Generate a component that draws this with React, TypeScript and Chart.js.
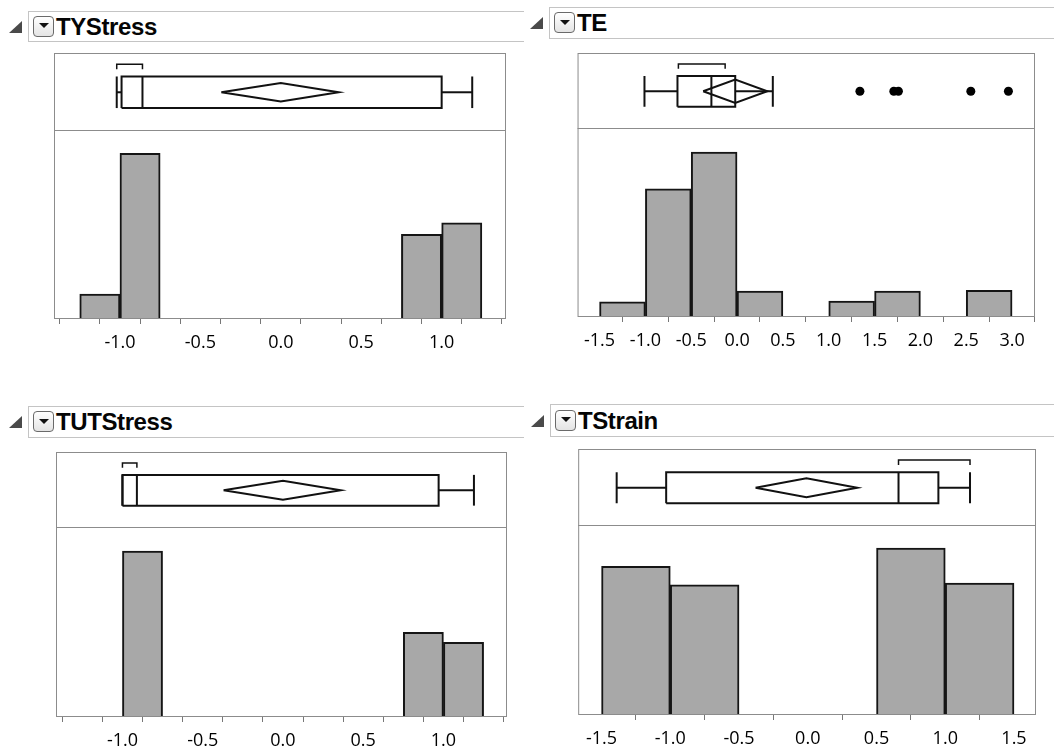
import React, { useEffect, useRef } from "react";
import { Chart, registerables } from "chart.js";

Chart.register(...registerables);

// ---------- DATA ----------
// TYStress
const tyBinStart = [-1.25, -1.0, 0.75, 1.0];
const tyCounts = [3, 20, 10.2, 11.6];
const tyBox = [-1.02, -0.99, -0.86, 1.0, 1.19]; // min, q1, median, q3, max
const tyDiamond = [-0.37, 0.0, 0.36]; // lower CI, mean, upper CI
const tyShortest = [-1.02, -0.86];
const tyOutliers: number[] = [];

// TE
const teBinStart = [-1.5, -1.0, -0.5, 0.0, 1.0, 1.5, 2.5];
const teCounts = [1.2, 10.1, 13, 2.05, 1.25, 2.05, 2.1];
const teBox = [-1.01, -0.65, -0.28, -0.02, 0.39];
const teDiamond = [-0.37, -0.02, 0.33];
const teShortest = [-0.64, -0.13];
const teOutliers = [1.34, 1.71, 1.76, 2.55, 2.96];

// TUTStress
const tutBinStart = [-1.0, 0.75, 1.0];
const tutCounts = [20, 10.2, 9];
const tutBox = [-1.0, -1.0, -0.91, 0.97, 1.19];
const tutDiamond = [-0.37, 0.0, 0.36];
const tutShortest = [-1.0, -0.91];
const tutOutliers: number[] = [];

// TStrain
const tsBinStart = [-1.5, -1.0, 0.5, 1.0];
const tsCounts = [8.9, 7.8, 10, 7.9];
const tsBox = [-1.39, -1.03, 0.66, 0.95, 1.18];
const tsDiamond = [-0.38, -0.01, 0.36];
const tsShortest = [0.66, 1.18];
const tsOutliers: number[] = [];

const titles = ["TYStress", "TE", "TUTStress", "TStrain"];

// ---------- LAYOUT ----------
type PanelDef = {
  title: string;
  bins: number[];
  counts: number[];
  binWidth: number;
  box: number[];
  diamond: number[];
  shortest: number[];
  outliers: number[];
  xMin: number;
  xMax: number;
  step: number;
  histMax: number;
  frame: { left: number; top: number; w: number; h: number; boxH: number };
  header: { x: number; y: number; w: number; h: number };
  diamondHalf: number;
};

const panels: PanelDef[] = [
  {
    title: titles[0], bins: tyBinStart, counts: tyCounts, binWidth: 0.25,
    box: tyBox, diamond: tyDiamond, shortest: tyShortest, outliers: tyOutliers,
    xMin: -1.41, xMax: 1.4, step: 0.25, histMax: 22.8,
    frame: { left: 54, top: 53, w: 452, h: 266, boxH: 77 },
    header: { x: 28, y: 11, w: 496, h: 31 }, diamondHalf: 0.12,
  },
  {
    title: titles[1], bins: teBinStart, counts: teCounts, binWidth: 0.5,
    box: teBox, diamond: teDiamond, shortest: teShortest, outliers: teOutliers,
    xMin: -1.74, xMax: 3.25, step: 0.5, histMax: 14.9,
    frame: { left: 576, top: 53, w: 459, h: 264, boxH: 75 },
    header: { x: 549, y: 7, w: 505, h: 32 }, diamondHalf: 0.155,
  },
  {
    title: titles[2], bins: tutBinStart, counts: tutCounts, binWidth: 0.25,
    box: tutBox, diamond: tutDiamond, shortest: tutShortest, outliers: tutOutliers,
    xMin: -1.414, xMax: 1.396, step: 0.25, histMax: 22.9,
    frame: { left: 56, top: 452, w: 451, h: 265, boxH: 75 },
    header: { x: 28, y: 406, w: 496, h: 32 }, diamondHalf: 0.127,
  },
  {
    title: titles[3], bins: tsBinStart, counts: tsCounts, binWidth: 0.5,
    box: tsBox, diamond: tsDiamond, shortest: tsShortest, outliers: tsOutliers,
    xMin: -1.67, xMax: 1.66, step: 0.5, histMax: 11.38,
    frame: { left: 578, top: 449, w: 458, h: 266, boxH: 76 },
    header: { x: 550, y: 404, w: 504, h: 33 }, diamondHalf: 0.125,
  },
];

const BOX_TOP = 0.305;
const BOX_BOTTOM = 0.715;
const BRACKET = 0.145;
const BRACKET_TICK = 0.21;
const TICK_LEN = 5;
const TICK_PAD = 8;
const TICK_FONT = 18;
const AXIS_SPACE = 60;

const framePlugin = {
  id: "frame",
  afterDatasetsDraw(chart: any, _args: any, opts: any) {
    const { ctx, chartArea } = chart;
    const { left, top, right, bottom } = chartArea;
    ctx.save();
    ctx.strokeStyle = "#8c8c8c";
    ctx.lineWidth = 1;
    ctx.strokeRect(left + 0.5, top + 0.5, right - left - 1, bottom - top - 1);
    const sy = Math.round(chart.scales.y.getPixelForValue(opts.split)) + 0.5;
    ctx.beginPath();
    ctx.moveTo(left, sy);
    ctx.lineTo(right, sy);
    ctx.stroke();
    ctx.restore();
  },
};

function lineDs(points: { x: number; y: number }[], width = 2) {
  return {
    type: "line" as const,
    data: points,
    showLine: true,
    borderColor: "#111111",
    borderWidth: width,
    pointRadius: 0,
    pointHoverRadius: 0,
    fill: false,
    tension: 0,
    borderJoinStyle: "miter" as const,
  };
}

function PanelChart({ p }: { p: PanelDef }) {
  const ref = useRef<HTMLCanvasElement | null>(null);
  useEffect(() => {
    if (!ref.current) return;
    const histH = p.frame.h - p.frame.boxH;
    const boxUnits = (p.histMax * p.frame.boxH) / histH;
    const yTop = p.histMax + boxUnits;
    const fy = (frac: number) => p.histMax + (1 - frac) * boxUnits;
    const [mn, q1, med, q3, mx] = p.box;
    const yb = fy(BOX_BOTTOM);
    const yt = fy(BOX_TOP);
    const ym = (yb + yt) / 2;
    const dh = p.diamondHalf * boxUnits;
    const [dLo, dMean, dHi] = p.diamond;
    const [s0, s1] = p.shortest;
    const by = fy(BRACKET);
    const bt = fy(BRACKET_TICK);
    const lineH = TICK_FONT * 1.2;
    const axisH = TICK_LEN + lineH + TICK_PAD * 2;

    const datasets: any[] = [
      {
        type: "bar",
        data: p.bins.map((b, i) => ({ x: b + p.binWidth / 2, y: p.counts[i] })),
        backgroundColor: "#a8a8a8",
        borderColor: "#151515",
        borderWidth: 2,
        barPercentage: 1,
        categoryPercentage: 1,
        borderSkipped: "start",
      },
      // whiskers
      lineDs([{ x: mn, y: ym }, { x: q1, y: ym }]),
      lineDs([{ x: q3, y: ym }, { x: mx, y: ym }]),
      lineDs([{ x: mn, y: yb }, { x: mn, y: yt }]),
      lineDs([{ x: mx, y: yb }, { x: mx, y: yt }]),
      // box
      lineDs([
        { x: q1, y: yb }, { x: q3, y: yb }, { x: q3, y: yt }, { x: q1, y: yt }, { x: q1, y: yb },
      ]),
      // median
      lineDs([{ x: med, y: yb }, { x: med, y: yt }]),
      // means diamond
      lineDs([
        { x: dLo, y: ym }, { x: dMean, y: ym + dh }, { x: dHi, y: ym }, { x: dMean, y: ym - dh }, { x: dLo, y: ym },
      ]),
      // shortest half bracket
      lineDs([{ x: s0, y: bt }, { x: s0, y: by }, { x: s1, y: by }, { x: s1, y: bt }], 1.5),
    ];
    if (p.outliers.length) {
      datasets.push({
        type: "scatter",
        data: p.outliers.map((v) => ({ x: v, y: ym })),
        pointRadius: 4.5,
        pointHoverRadius: 0,
        pointBackgroundColor: "#000",
        pointBorderWidth: 0,
        showLine: false,
      });
    }

    const chart = new Chart(ref.current, {
      type: "scatter",
      data: { datasets },
      plugins: [framePlugin],
      options: {
        animation: false,
        responsive: false,
        events: [],
        layout: {
          autoPadding: false,
          padding: { left: 0, right: 0, top: 0, bottom: AXIS_SPACE - axisH },
        },
        plugins: {
          legend: { display: false },
          tooltip: { enabled: false },
          frame: { split: p.histMax },
        } as any,
        scales: {
          x: {
            type: "linear",
            min: p.xMin,
            max: p.xMax,
            offset: false,
            border: { display: false },
            grid: {
              display: true,
              drawOnChartArea: false,
              drawTicks: true,
              tickLength: TICK_LEN,
              color: "#777",
              lineWidth: 1,
            },
            ticks: {
              stepSize: p.step,
              autoSkip: false,
              maxRotation: 0,
              includeBounds: false,
              padding: TICK_PAD,
              color: "#000000",
              font: { family: '"Open Sans", sans-serif', size: TICK_FONT },
              callback: (v: any) => {
                const n = Number(v);
                return Math.abs(n * 2 - Math.round(n * 2)) < 1e-6 ? n.toFixed(1) : "";
              },
            },
          },
          y: { type: "linear", display: false, min: 0, max: yTop },
        },
      } as any,
    });
    return () => chart.destroy();
  }, [p]);

  return (
    <canvas
      ref={ref}
      width={p.frame.w}
      height={p.frame.h + AXIS_SPACE}
      style={{ position: "absolute", left: p.frame.left, top: p.frame.top }}
    />
  );
}

function Header({ p }: { p: PanelDef }) {
  const { x, y, w, h } = p.header;
  const mid = y + h / 2;
  return (
    <>
      <div
        style={{
          position: "absolute",
          left: x - 19,
          top: mid - 6,
          width: 0,
          height: 0,
          borderLeft: "13px solid transparent",
          borderBottom: "12px solid #4a4a4a",
        }}
      />
      <div
        style={{
          position: "absolute",
          left: x,
          top: y,
          width: w,
          height: h,
          boxSizing: "border-box",
          border: "1px solid #c4c4c4",
          borderRight: "none",
        }}
      />
      <div
        style={{
          position: "absolute",
          left: x + 5,
          top: mid - 11,
          width: 21,
          height: 21,
          boxSizing: "border-box",
          border: "1.5px solid #6a6a6a",
          borderRadius: 4,
          background: "linear-gradient(#ffffff, #e4e4e4)",
        }}
      >
        <div
          style={{
            position: "absolute",
            left: 4.5,
            top: 6.5,
            width: 0,
            height: 0,
            borderLeft: "5px solid transparent",
            borderRight: "5px solid transparent",
            borderTop: "5.5px solid #111",
          }}
        />
      </div>
      <div
        style={{
          position: "absolute",
          left: x + 28,
          top: mid - 13,
          fontFamily: '"Liberation Sans", Arial, sans-serif',
          fontWeight: 700,
          fontSize: 24,
          lineHeight: "26px",
          letterSpacing: "-0.4px",
          color: "#050505",
          whiteSpace: "nowrap",
        }}
      >
        {p.title}
      </div>
    </>
  );
}

export default function App() {
  return (
    <div
      style={{
        position: "fixed",
        left: 0,
        top: 0,
        width: 1054,
        height: 753,
        background: "#ffffff",
        overflow: "hidden",
      }}
    >
      {panels.map((p) => (
        <React.Fragment key={p.title}>
          <Header p={p} />
          <PanelChart p={p} />
        </React.Fragment>
      ))}
    </div>
  );
}
